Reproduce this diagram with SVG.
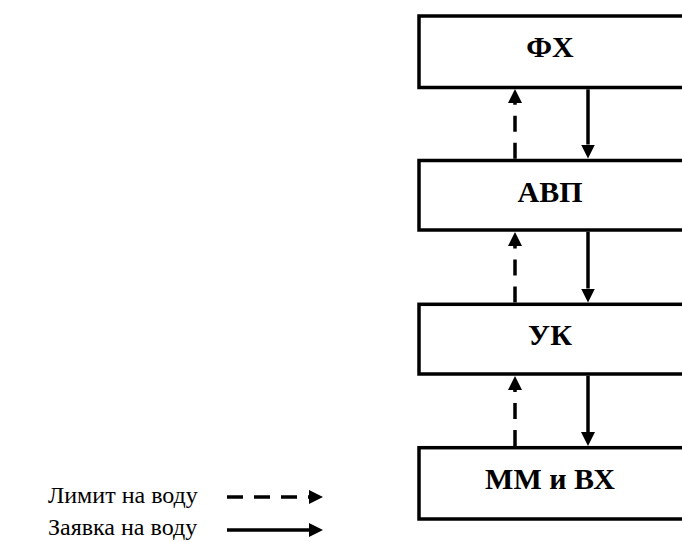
<svg xmlns="http://www.w3.org/2000/svg" width="682" height="542" viewBox="0 0 682 542">
  <style>
    .box { fill: #ffffff; stroke: #000000; stroke-width: 3.5; }
    .lbl { font-family: "Liberation Serif", "Times New Roman", serif; font-weight: bold; font-size: 30px; text-anchor: middle; fill: #000000; }
    .leg { font-family: "Liberation Serif", "Times New Roman", serif; font-size: 24px; fill: #000000; }
    .solid { fill: none; stroke: #000000; stroke-width: 3.5; }
    .dash { fill: none; stroke: #000000; stroke-width: 3.5; stroke-dasharray: 16 11; }
  </style>
  <defs>
    <marker id="ah" viewBox="0 0 14 14" markerWidth="14" markerHeight="14" markerUnits="userSpaceOnUse" refX="0" refY="7" orient="auto">
      <path d="M0,0 L14,7 L0,14 Z" fill="#000000"/>
    </marker>
  </defs>
  <rect width="682" height="542" fill="#ffffff"/>

  <g id="node-fh">
    <rect class="box" x="419" y="16" width="266" height="71.5"/>
    <text class="lbl" x="550" y="57">ФХ</text>
  </g>
  <g id="node-avp">
    <rect class="box" x="419" y="160.5" width="266" height="69.5"/>
    <text class="lbl" x="550" y="201.5">АВП</text>
  </g>
  <g id="node-uk">
    <rect class="box" x="419" y="304.3" width="266" height="69.7"/>
    <text class="lbl" x="550" y="345">УК</text>
  </g>
  <g id="node-mm">
    <rect class="box" x="419" y="447.7" width="266" height="71.3"/>
    <text class="lbl" x="550" y="488.5">ММ и ВХ</text>
  </g>

  <g id="connectors">
    <path class="solid" d="M588,89.3 L588,144.5" marker-end="url(#ah)"/>
    <path class="dash" d="M515,158.8 L515,103" marker-end="url(#ah)"/>
    <path class="solid" d="M588,231.7 L588,288.5" marker-end="url(#ah)"/>
    <path class="dash" d="M515,302.5 L515,246" marker-end="url(#ah)"/>
    <path class="solid" d="M588,375.7 L588,432" marker-end="url(#ah)"/>
    <path class="dash" d="M515,446 L515,390" marker-end="url(#ah)"/>
  </g>

  <g id="legend">
    <text class="leg" x="48" y="503">Лимит на воду</text>
    <text class="leg" x="48" y="535">Заявка на воду</text>
    <path class="dash" d="M227,497 L309,497" marker-end="url(#ah)"/>
    <path class="solid" d="M227,530 L309,530" marker-end="url(#ah)"/>
  </g>
</svg>
